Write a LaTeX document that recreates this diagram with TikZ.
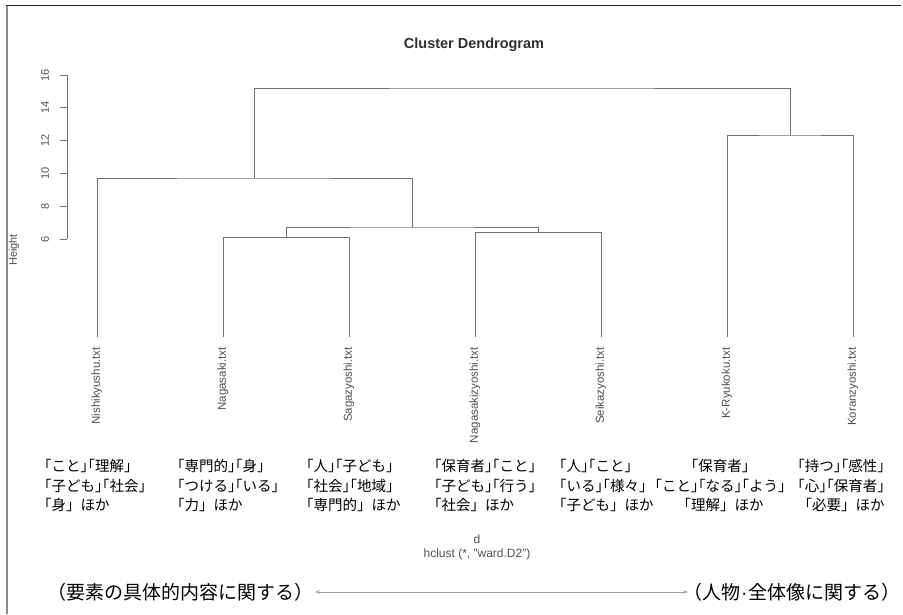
\documentclass[tikz,border=0pt]{standalone}
\usepackage{fontspec}
\setmainfont{Liberation Sans}
\newfontfamily\jpfont{Noto Sans CJK JP}
\usetikzlibrary{arrows.meta,calc}

% closing + opening corner bracket set tight, as one full-width cell
\newcommand\bkpair{」\kern-1em「}
% narrow middle dot taken from the Latin font
\newcommand\nakaguro{{\rmfamily\kern0.05em·\kern0.05em}}

\definecolor{treegray}{HTML}{707070}
\definecolor{labelgray}{HTML}{505050}
\definecolor{titlegray}{HTML}{303030}
\definecolor{framegray}{HTML}{8A8A8A}
\definecolor{arrowgray}{HTML}{A0A0A0}

\begin{document}
\begin{tikzpicture}[x=1pt,y=-1pt,
  tree/.style={draw=treegray, line width=0.9pt},
  axisline/.style={draw=treegray, line width=0.9pt},
  leaflabel/.style={rotate=90, anchor=east, inner sep=0pt, text=labelgray,
    font=\fontsize{11.5}{12}\selectfont},
  ticklabel/.style={rotate=90, inner sep=0pt, text=labelgray,
    font=\fontsize{11}{12}\selectfont},
  wordsleft/.style={anchor=west, align=left, inner sep=0pt, text=black,
    font=\jpfont\fontsize{14.5}{19.5}\selectfont},
  wordscenter/.style={anchor=center, align=center, inner sep=0pt, text=black,
    font=\jpfont\fontsize{14.5}{19.5}\selectfont},
  axisnote/.style={inner sep=0pt, text=black, font=\jpfont\fontsize{19}{22}\selectfont},
  caption/.style={inner sep=0pt, text=labelgray, font=\fontsize{12}{14}\selectfont}
]
\useasboundingbox (0,0) rectangle (903,614);
\fill[white] (0,0) rectangle (903,614);

% frame edges
\draw[framegray, line width=2pt] (6.5,5) -- (6.5,614);
\draw[black!85, line width=1pt] (6,5) -- (901,5);

% title
\node[inner sep=0pt, text=titlegray, font=\bfseries\fontsize{14.5}{16}\selectfont]
  (title) at (474,45) {Cluster Dendrogram};

% height axis
\draw[axisline] (67,75) -- (67,239);
\foreach \h in {6,8,...,16}{
  \coordinate (tick\h) at (67,{75+(16-\h)*16.4});
  \draw[axisline] (tick\h) -- ++(-7,0);
  \node[ticklabel] (tl\h) at ($(tick\h)+(-22,0)$) {\h};
}
\node[ticklabel] (ylab) at (14,250) {Height};

% leaves (bottom ends of the tree)
\coordinate (nishi)  at (97,337);
\coordinate (naga)   at (223,337);
\coordinate (saga)   at (349,337);
\coordinate (nagaz)  at (475,337);
\coordinate (seika)  at (601,337);
\coordinate (kryu)   at (727,337);
\coordinate (koran)  at (853,337);

% merge points
\coordinate (m1) at (286,237.5);
\coordinate (m2) at (538,232.5);
\coordinate (m3) at (412,227);
\coordinate (m4) at (254.5,178);
\coordinate (m5) at (790,135);
\coordinate (m6) at (522,88);

\draw[tree] (naga)  |- (m1) -| (saga);
\draw[tree] (nagaz) |- (m2) -| (seika);
\draw[tree] (m1)    |- (m3) -| (m2);
\draw[tree] (nishi) |- (m4) -| (m3);
\draw[tree] (kryu)  |- (m5) -| (koran);
\draw[tree] (m4)    |- (m6) -| (m5);

% leaf labels
\node[leaflabel] (lnishi) at ($(nishi)+(0,10)$) {Nishikyushu.txt};
\node[leaflabel] (lnaga)  at ($(naga)+(0,10)$)  {Nagasaki.txt};
\node[leaflabel] (lsaga)  at ($(saga)+(0,10)$)  {Sagazyoshi.txt};
\node[leaflabel] (lnagaz) at ($(nagaz)+(0,10)$) {Nagasakizyoshi.txt};
\node[leaflabel] (lseika) at ($(seika)+(0,10)$) {Seikazyoshi.txt};
\node[leaflabel] (lkryu)  at ($(kryu)+(0,10)$)  {K-Ryukoku.txt};
\node[leaflabel] (lkoran) at ($(koran)+(0,10)$) {Koranzyoshi.txt};

% characteristic words of each cluster
\node[wordsleft] (w1) at (37,485.5) {「こと\bkpair 理解」\\「子ども\bkpair 社会」\\「身」ほか};
\node[wordsleft] (w2) at (170,485.5) {「専門的\bkpair 身」\\「つける\bkpair いる」\\「力」ほか};
\node[wordsleft] (w3) at (299,485.5) {「人\bkpair 子ども」\\「社会\bkpair 地域」\\「専門的」ほか};
\node[wordsleft] (w4) at (427,485.5) {「保育者\bkpair こと」\\「子ども\bkpair 行う」\\「社会」ほか};
\node[wordsleft] (w5) at (552,485.5) {「人\bkpair こと」\\「いる\bkpair 様々」\\「子ども」ほか};
\node[wordscenter] (w6) at (720,485.5) {「保育者」\\「こと\bkpair なる\bkpair よう」\\「理解」ほか};
\node[wordscenter] (w7) at (841,485.5) {「持つ\bkpair 感性」\\「心\bkpair 保育者」\\「必要」ほか};

% method caption
\node[caption] (cd) at (477,539) {d};
\node[caption] (ch) at (477,554) {hclust (*, "ward.D2")};

% interpretation axis
\node[axisnote, anchor=east] (left) at (314,592) {（要素の具体的内容に関する）};
\node[axisnote, anchor=west] (right) at (683,592) {（人物\nakaguro 全体像に関する）};
\draw[arrowgray, line width=0.8pt, {Stealth[length=5pt,width=3.5pt]}-{Stealth[length=5pt,width=3.5pt]}]
  ([xshift=1pt]left.east) -- ([xshift=5pt]right.west);
\end{tikzpicture}
\end{document}
